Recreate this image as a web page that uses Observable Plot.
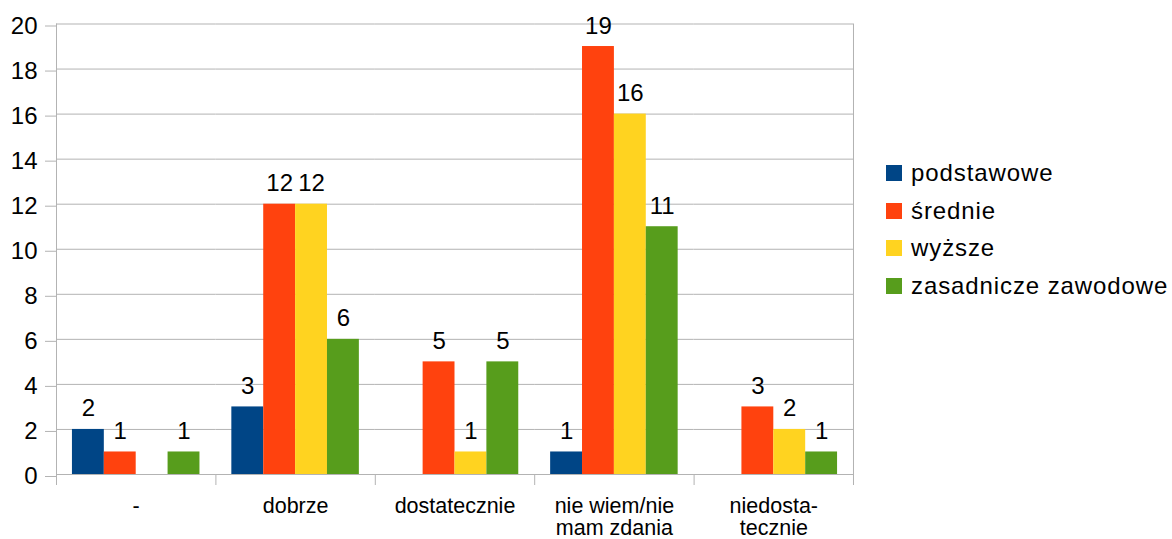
<!DOCTYPE html>
<html>
<head>
<meta charset="utf-8">
<script src="https://cdn.jsdelivr.net/npm/d3@7"></script>
<script src="https://cdn.jsdelivr.net/npm/@observablehq/plot@0.6"></script>
<style>
  html, body { margin: 0; padding: 0; background: #fff; }
  #wrap { position: relative; width: 1172px; height: 539px; font-family: "Liberation Sans", Arial, sans-serif; }
  #wrap svg { display: block; }
  #legend { position: absolute; left: 886px; top: 154.5px; }
  .item { display: flex; align-items: center; height: 37.6px; font-size: 24px; letter-spacing: 0.9px; color: #000; white-space: nowrap; }
  .sw { width: 16px; height: 16px; margin-right: 9px; flex: none; }
</style>
</head>
<body>
<div id="wrap"><div id="legend"></div></div>
<script>
const categories = ["-", "dobrze", "dostatecznie", "nie wiem/nie mam zdania", "niedostatecznie"];
const categoryLabels = ["-", "dobrze", "dostatecznie", "nie wiem/nie\nmam zdania", "niedosta-\ntecznie"];
const series = ["podstawowe", "średnie", "wyższe", "zasadnicze zawodowe"];
const colors = ["#004586", "#ff420e", "#ffd320", "#579d1c"];
const podstawowe = [2, 3, 0, 1, 0];
const srednie = [1, 12, 5, 19, 3];
const wyzsze = [0, 12, 1, 16, 2];
const zasadnicze = [1, 6, 5, 11, 1];
const yTicks = [0, 2, 4, 6, 8, 10, 12, 14, 16, 18, 20];

const seriesValues = [podstawowe, srednie, wyzsze, zasadnicze];
const rows = [];
categories.forEach((c, i) => {
  series.forEach((s, j) => rows.push({cat: c, series: s, value: seriesValues[j][i]}));
});

const W = 1172, H = 539, mL = 56, mR = 319, mT = 23.5, mB = 65;
const step = (W - mL - mR) / categories.length / (series.length + 1);
const labelOf = new Map(categories.map((c, i) => [c, categoryLabels[i]]));
const grid = "#b3b3b3";

const firstRows = rows.filter(d => d.series === series[0]);
const leftAxisRow = firstRows.filter(d => d.cat === categories[0]);
const sepRows = firstRows.filter(d => d.cat !== categories[0]);
const rightRow = rows.filter(d => d.series === series[series.length - 1] && d.cat === categories[categories.length - 1]);

const chart = Plot.plot({
  width: W, height: H,
  marginLeft: mL, marginRight: mR, marginTop: mT, marginBottom: mB,
  style: {fontFamily: "Liberation Sans, Arial, sans-serif", background: "#fff", color: "#000"},
  fx: {domain: categories, padding: 0, round: false, label: null},
  x: {domain: series, paddingInner: 0, paddingOuter: 0.5, round: false, axis: null},
  y: {domain: [0, 20], label: null},
  color: {domain: series, range: colors},
  marks: [
    Plot.gridY(yTicks, {stroke: grid, strokeOpacity: 1}),
    Plot.axisY(yTicks, {tickSize: 11, tickPadding: 8, stroke: grid, strokeOpacity: 1, fill: "#000", fontSize: 24, dy: 2, label: null}),
    Plot.axisFx({anchor: "bottom", tickSize: 0, tickPadding: 22.5, fontSize: 21.5, lineHeight: 1.03, fill: "#000", label: null, tickFormat: c => labelOf.get(c)}),
    Plot.barY(rows, {fx: "cat", x: "series", y: "value", fill: "series"}),
    Plot.ruleX(leftAxisRow, {fx: "cat", x: "series", y1: () => 20, y2: () => 0, insetBottom: -11, dx: -step, stroke: grid}),
    Plot.ruleX(sepRows, {fx: "cat", x: "series", y1: () => 0, y2: () => 0, insetBottom: -11, dx: -step, stroke: grid}),
    Plot.ruleX(rightRow, {fx: "cat", x: "series", y1: () => 20, y2: () => 0, insetBottom: -11, dx: step, stroke: grid}),
    Plot.ruleY([0], {stroke: grid}),
    Plot.text(rows.filter(d => d.value > 0), {fx: "cat", x: "series", y: "value", text: d => String(d.value), lineAnchor: "bottom", dy: -13, fontSize: 24, fill: "#000"})
  ]
});
document.getElementById("wrap").prepend(chart);

const legend = document.getElementById("legend");
series.forEach((s, i) => {
  const item = document.createElement("div");
  item.className = "item";
  const sw = document.createElement("span");
  sw.className = "sw";
  sw.style.background = colors[i];
  const t = document.createElement("span");
  t.textContent = s;
  item.append(sw, t);
  legend.append(item);
});
</script>
</body>
</html>
